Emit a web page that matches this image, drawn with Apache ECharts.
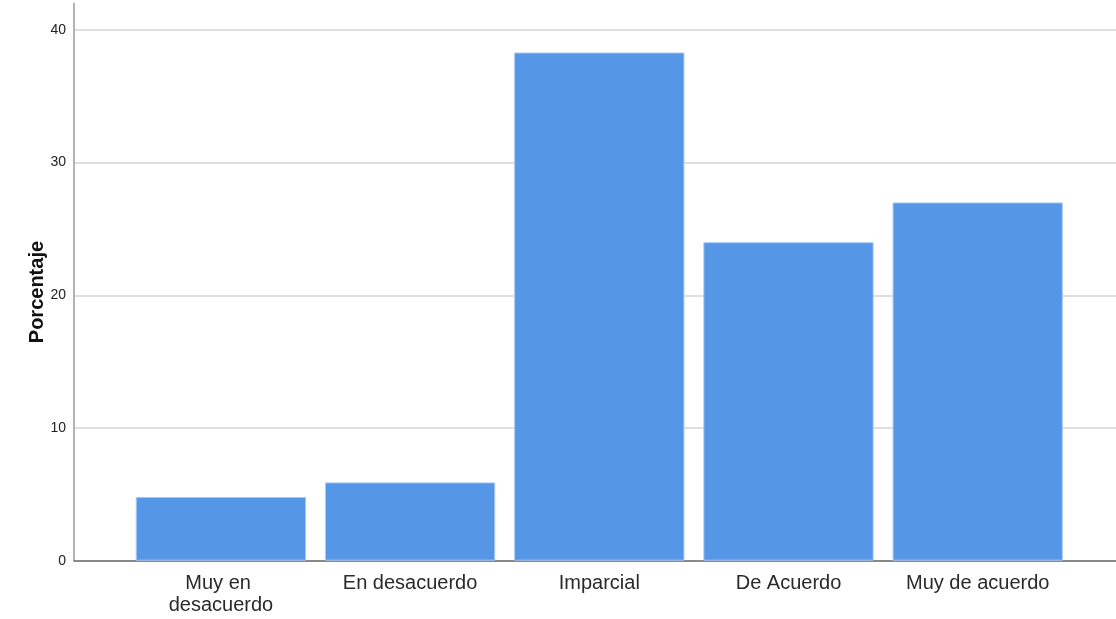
<!DOCTYPE html>
<html>
<head>
<meta charset="utf-8">
<script src="https://cdn.jsdelivr.net/npm/echarts@6/dist/echarts.min.js"></script>
<style>
html,body{margin:0;padding:0;background:#fff;}
#chart{width:1116px;height:619px;}
</style>
</head>
<body>
<div id="chart"></div>
<script>
const categories = ["Muy en desacuerdo", "En desacuerdo", "Imparcial", "De Acuerdo", "Muy de acuerdo"];
const percentages = [4.8, 5.9, 38.3, 24.0, 27.0];
const yAxisName = "Porcentaje";
const yMin = 0, yMax = 42, yStep = 10;

const chart = echarts.init(document.getElementById('chart'), null, {renderer: 'canvas'});
const font = "'Liberation Sans', Arial, sans-serif";
const gridTop = 3.4, gridBottom = 58.3;
chart.setOption({
  animation: false,
  backgroundColor: '#ffffff',
  textStyle: {fontFamily: font},
  grid: [
    {left: 74, right: 0, top: gridTop, bottom: gridBottom, containLabel: false},
    {left: 126.3, right: 43.7, top: gridTop, bottom: gridBottom, containLabel: false}
  ],
  xAxis: [
    {gridIndex: 0, type: 'value', min: 0, max: 1,
     axisLine: {show: true, onZero: false, lineStyle: {color: '#6e6e6e', width: 1.5}},
     axisTick: {show: false}, axisLabel: {show: false}, splitLine: {show: false}},
    {gridIndex: 1, type: 'category', data: categories,
     axisLine: {show: false}, axisTick: {show: false}, splitLine: {show: false},
     axisLabel: {color: '#2a2a2a', fontSize: 20, fontFamily: font, margin: 12, lineHeight: 22,
                 width: 160, overflow: 'break', interval: 0}}
  ],
  yAxis: [
    {gridIndex: 0, type: 'value', min: yMin, max: yMax, interval: yStep,
     name: yAxisName, nameLocation: 'middle', nameGap: 27, nameMoveOverlap: false,
     nameTextStyle: {fontSize: 20, fontWeight: 'bold', color: '#111', fontFamily: font,
                     padding: [0, 20, 0, 0]},
     axisLine: {show: true, lineStyle: {color: '#9a9a9a', width: 1.5}},
     axisTick: {show: false},
     axisLabel: {color: '#222', fontSize: 14, margin: 8, fontFamily: font,
                 formatter: function (v) { return v % yStep === 0 ? String(v) : ''; }},
     splitLine: {show: true, showMaxLine: false, lineStyle: {color: '#d4d4d4', width: 1.5}}},
    {gridIndex: 1, type: 'value', min: yMin, max: yMax, show: false, splitLine: {show: false}}
  ],
  series: [{
    type: 'bar', xAxisIndex: 1, yAxisIndex: 1, data: percentages,
    barCategoryGap: '10%',
    itemStyle: {color: '#5596e6', borderColor: '#a8c8f2', borderWidth: 1}
  }]
});
</script>
</body>
</html>
